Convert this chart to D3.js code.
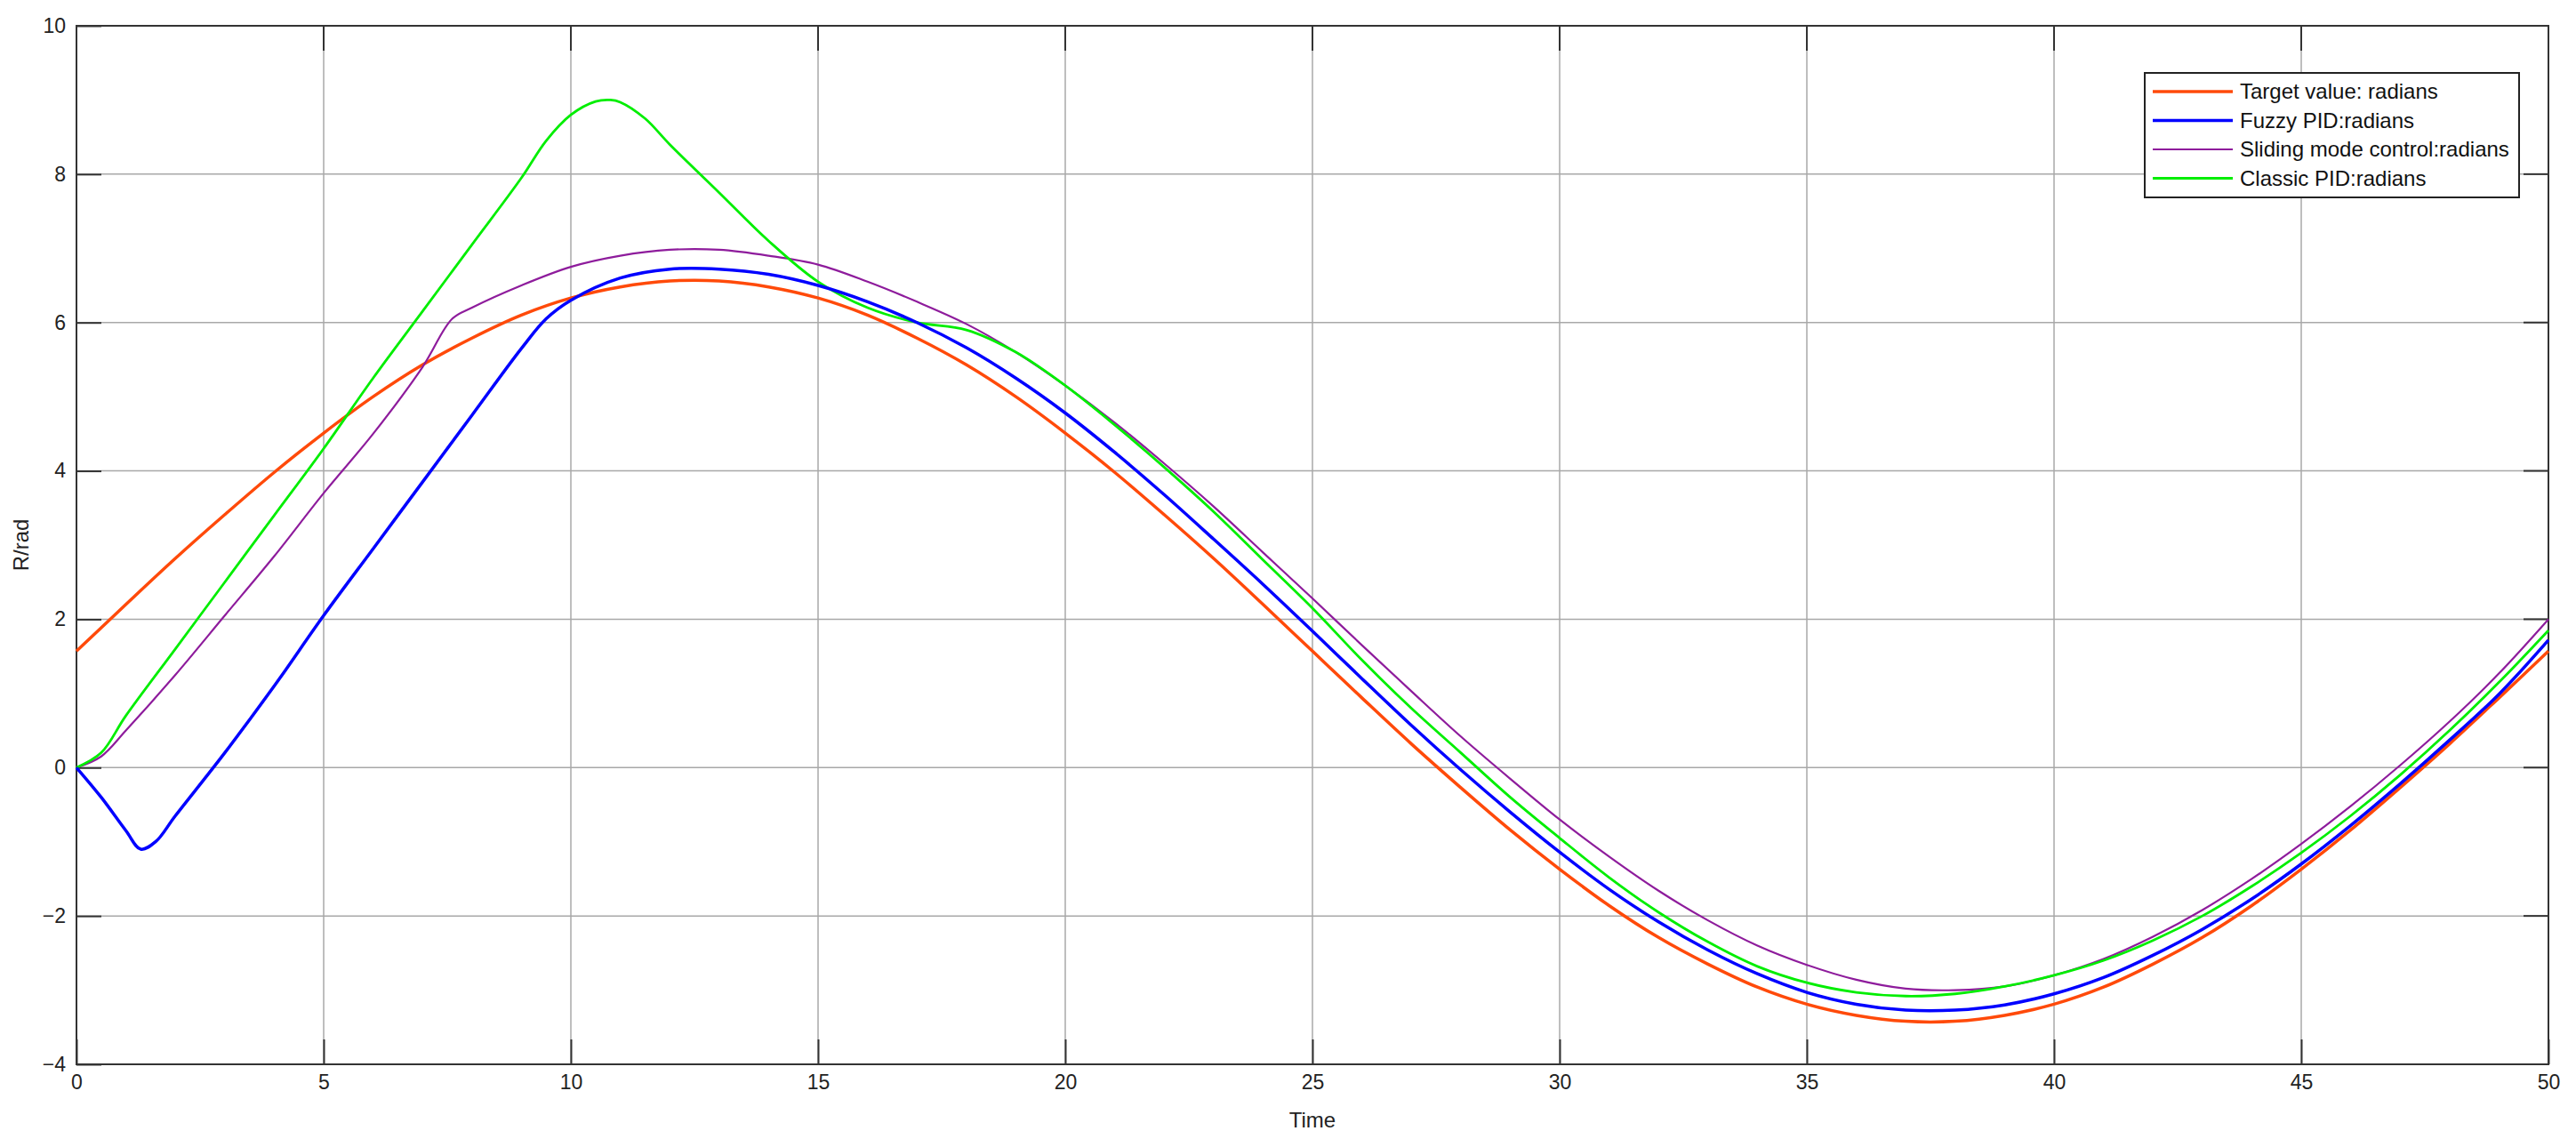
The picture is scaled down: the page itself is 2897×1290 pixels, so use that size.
<!DOCTYPE html>
<html><head><meta charset="utf-8">
<script src="https://cdn.jsdelivr.net/npm/d3@7"></script>
<style>body{margin:0;background:#fff}</style></head>
<body><svg id="c" width="2897" height="1290"></svg>
<script>
const xTicks=[0,5,10,15,20,25,30,35,40,45,50];
const yTicks=[-4,-2,0,2,4,6,8,10];
const seriesNames=["Target value: radians","Fuzzy PID:radians","Sliding mode control:radians","Classic PID:radians"];
const seriesColors=["#ff4a0a","#0000ff","#8e1c9c","#00ee00"];
const tUnit=d3.range(0,51);
const targetVals=[1.57,2.20,2.82,3.41,3.98,4.51,5.00,5.43,5.79,6.10,6.33,6.48,6.56,6.56,6.48,6.33,6.10,5.79,5.43,5.00,4.51,3.98,3.41,2.82,2.20,1.57,0.94,0.32,-0.27,-0.84,-1.37,-1.86,-2.29,-2.65,-2.96,-3.19,-3.34,-3.42,-3.42,-3.34,-3.19,-2.96,-2.65,-2.29,-1.86,-1.37,-0.84,-0.27,0.32,0.94,1.57];
const fuzzyT=[0,0.5,1,1.3,1.6,2,3,4,5,6,7,8,9,9.5,10,11,12,13,14,15,16,17,18,19,20,21,22,23,24,25,26,27,28,29,30,31,32,33,34,35,36,37,38,39,40,41,42,43,44,45,46,47,48,49,50];
const fuzzyVals=[0,-0.4,-0.85,-1.1,-1.0,-0.65,0.2,1.1,2.05,2.95,3.85,4.75,5.65,6.05,6.3,6.6,6.72,6.72,6.65,6.5,6.28,6.0,5.66,5.25,4.78,4.25,3.68,3.08,2.47,1.84,1.2,0.57,-0.03,-0.6,-1.14,-1.64,-2.08,-2.46,-2.78,-3.03,-3.19,-3.27,-3.27,-3.2,-3.05,-2.83,-2.53,-2.18,-1.77,-1.3,-0.78,-0.22,0.37,0.99,1.72];
const slidingT=[0,0.5,1,2,3,4,5,6,7,7.6,8,9,10,11,12,13,14,15,16,17,18,19,20,21,22,23,24,25,26,27,28,29,30,31,32,33,34,35,36,37,38,39,40,41,42,43,44,45,46,47,48,49,50];
const slidingVals=[0,0.15,0.5,1.25,2.05,2.85,3.7,4.5,5.4,6.05,6.2,6.5,6.75,6.9,6.98,6.98,6.9,6.78,6.55,6.28,5.98,5.6,5.15,4.65,4.1,3.52,2.9,2.28,1.65,1.03,0.42,-0.15,-0.7,-1.2,-1.66,-2.06,-2.4,-2.66,-2.86,-2.98,-3.0,-2.95,-2.8,-2.58,-2.28,-1.92,-1.5,-1.03,-0.52,0.03,0.62,1.27,2.0];
const classicT=[0,0.5,1,2,3,4,5,6,7,8,9,9.5,10,10.5,10.8,11,11.5,12,13,14,15,16,17,18,19,20,21,22,23,24,25,26,27,28,29,30,31,32,33,34,35,36,37,38,39,40,41,42,43,44,45,46,47,48,49,50];
const classicVals=[0,0.2,0.7,1.6,2.5,3.4,4.3,5.25,6.15,7.05,7.95,8.45,8.8,8.98,9.0,8.97,8.75,8.4,7.75,7.1,6.55,6.2,6.0,5.9,5.6,5.15,4.62,4.05,3.45,2.8,2.15,1.45,0.8,0.2,-0.4,-0.95,-1.48,-1.95,-2.35,-2.68,-2.9,-3.03,-3.08,-3.05,-2.95,-2.8,-2.6,-2.33,-2.0,-1.6,-1.15,-0.65,-0.1,0.5,1.15,1.85];

const L=86,R=2866,T=29,B=1197;
const svg=d3.select("#c");
const x=d3.scaleLinear().domain([0,50]).range([L,R]);
const y=d3.scaleLinear().domain([-4,10]).range([B,T]);
const font="Arial, 'Liberation Sans', sans-serif";
svg.append("g").selectAll("line").data(xTicks).join("line")
 .attr("x1",d=>x(d)).attr("x2",d=>x(d)).attr("y1",T).attr("y2",B).attr("stroke","#a8a8a8").attr("stroke-width",1.5);
svg.append("g").selectAll("line").data(yTicks).join("line")
 .attr("y1",d=>y(d)).attr("y2",d=>y(d)).attr("x1",L).attr("x2",R).attr("stroke","#a8a8a8").attr("stroke-width",1.5);
const ax=svg.append("g").attr("transform",`translate(0,${B})`).call(d3.axisBottom(x).tickValues(xTicks).tickSizeInner(-28).tickSizeOuter(0).tickPadding(12));
const ay=svg.append("g").attr("transform",`translate(${L},0)`).call(d3.axisLeft(y).tickValues(yTicks).tickSizeInner(-28).tickSizeOuter(0).tickPadding(12));
[ax,ay].forEach(g=>{g.select(".domain").remove();g.selectAll("line").attr("stroke","#333").attr("stroke-width",2);
 g.selectAll("text").attr("font-family",font).attr("font-size",23).attr("fill","#222");});
svg.append("g").selectAll("line").data(xTicks).join("line").attr("x1",d=>x(d)).attr("x2",d=>x(d)).attr("y1",T).attr("y2",T+28).attr("stroke","#333").attr("stroke-width",2);
svg.append("g").selectAll("line").data(yTicks).join("line").attr("y1",d=>y(d)).attr("y2",d=>y(d)).attr("x1",R).attr("x2",R-28).attr("stroke","#333").attr("stroke-width",2);
svg.append("rect").attr("x",L).attr("y",T).attr("width",R-L).attr("height",B-T).attr("fill","none").attr("stroke","#333").attr("stroke-width",2);
const line=d3.line().x(d=>x(d[0])).y(d=>y(d[1])).curve(d3.curveCatmullRom.alpha(0.5));
const data=[d3.zip(tUnit,targetVals),d3.zip(fuzzyT,fuzzyVals),d3.zip(slidingT,slidingVals),d3.zip(classicT,classicVals)];
const widths=[3.5,3.5,2.2,2.8];
[0,2,3,1].forEach(i=>svg.append("path").attr("d",line(data[i])).attr("fill","none").attr("stroke",seriesColors[i]).attr("stroke-width",widths[i]));
svg.append("text").attr("x",(L+R)/2).attr("y",1268).attr("text-anchor","middle").attr("font-family",font).attr("font-size",24).attr("fill","#222").text("Time");
svg.append("text").attr("transform",`translate(32,${(T+B)/2}) rotate(-90)`).attr("text-anchor","middle").attr("font-family",font).attr("font-size",24).attr("fill","#222").text("R/rad");
const lg=svg.append("g");
lg.append("rect").attr("x",2412).attr("y",82).attr("width",421).attr("height",140).attr("fill","#fff").attr("stroke","#222").attr("stroke-width",2);
seriesNames.forEach((n,i)=>{const yy=103+i*32.5;
 lg.append("line").attr("x1",2421).attr("x2",2511).attr("y1",yy).attr("y2",yy).attr("stroke",seriesColors[i]).attr("stroke-width",widths[i]);
 lg.append("text").attr("x",2519).attr("y",yy+8).attr("font-family",font).attr("font-size",24).attr("fill","#111").text(n);});
</script></body></html>
